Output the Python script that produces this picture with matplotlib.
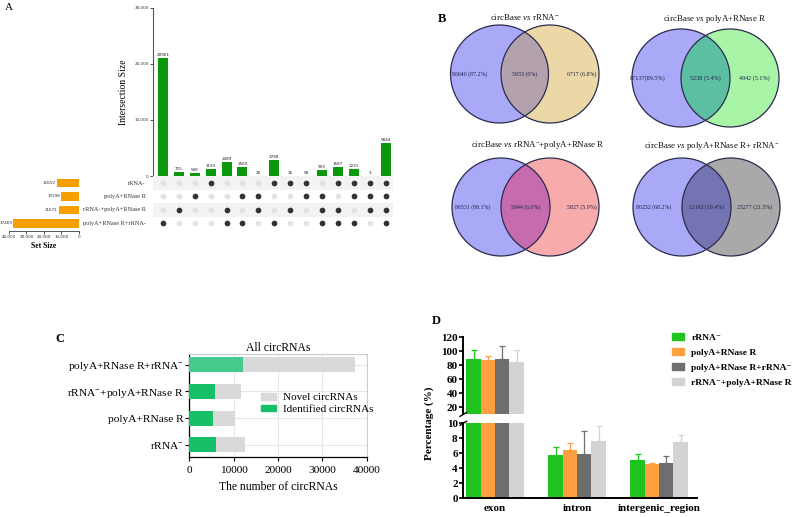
import matplotlib
matplotlib.use('Agg')
import matplotlib.pyplot as plt
from matplotlib.patches import Circle, Rectangle
from matplotlib.lines import Line2D
import numpy as np

plt.rcParams['font.family'] = ['Liberation Serif', 'DejaVu Serif']
plt.rcParams['mathtext.fontset'] = 'custom'
plt.rcParams['mathtext.rm'] = 'Liberation Serif'
plt.rcParams['mathtext.it'] = 'Liberation Serif:italic'
plt.rcParams['mathtext.bf'] = 'Liberation Serif:bold'

# ---------------- data ----------------
# Panel A (UpSet)
upset_sets = ['rRNA-', 'polyA+RNase R', 'rRNA-+polyA+RNase R', 'polyA+RNase R+rRNA-']
set_sizes = [12652, 10198, 11671, 37469]
inter_sizes = [20961, 715, 549, 1193, 2489, 1560, 20, 2788, 16, 58, 993, 1587, 1231, 3, 5844]
inter_members = [[3], [2], [1], [0], [2, 3], [1, 3], [1, 2], [0, 3], [0, 2], [0, 1],
                 [1, 2, 3], [0, 2, 3], [0, 1, 3], [0, 1, 2], [0, 1, 2, 3]]
upset_yticks = [0, 10000, 20000, 30000]
upset_yticklabels = ['0', '10,000', '20,000', '30,000']
setsize_ticks = [40000, 30000, 20000, 10000, 0]
setsize_ticklabels = ['40,000', '30,000', '20,000', '10,000', '0']

# Panel B (Venn)
venn_titles = [r'circBase $\mathit{vs}$ rRNA$^{-}$',
               r'circBase $\mathit{vs}$ polyA+RNase R',
               r'circBase $\mathit{vs}$ rRNA$^{-}$+polyA+RNase R',
               r'circBase $\mathit{vs}$ polyA+RNase R+ rRNA$^{-}$']
venn_left = ['86640 (87.2%)', '87137(89.5%)', '86531 (88.1%)', '80252 (68.2%)']
venn_mid = ['5933 (6%)', '5238 (5.4%)', '5844 (6.0%)', '12192 (10.4%)']
venn_right = ['6717 (6.8%)', '4942 (5.1%)', '5827 (5.9%)', '25277 (21.5%)']

# Panel C
c_categories = ['rRNA$^{-}$', 'polyA+RNase R', 'rRNA$^{-}$+polyA+RNase R', 'polyA+RNase R+rRNA$^{-}$']
c_identified = [5933, 5238, 5844, 12192]
c_total = [12652, 10198, 11671, 37469]

# Panel D
d_groups = ['exon', 'intron', 'intergenic_region']
d_series = ['rRNA\u207b', 'polyA+RNase R', 'polyA+RNase R+rRNA\u207b',
            'rRNA\u207b+polyA+RNase R']
d_values = [[88.5, 5.8, 5.05],
            [88.0, 6.4, 4.6],
            [89.0, 5.95, 4.7],
            [85.0, 7.7, 7.45]]
d_errors = [[13.0, 1.0, 0.85],
            [5.0, 1.0, 0.1],
            [18.0, 3.05, 1.0],
            [17.0, 2.0, 1.05]]

# ---------------- layout helpers ----------------
W, H = 800, 517
fig = plt.figure(figsize=(8, 5.17), dpi=100)


def rect(x0, y0, x1, y1):
    return [x0 / W, 1 - y1 / H, (x1 - x0) / W, (y1 - y0) / H]


def fx(x):
    return x / W


def fy(y):
    return 1 - y / H


# ================= Panel A =================
green_a = '#0a990a'
orange_a = '#f5a000'
ncol = len(inter_sizes)
xa = np.arange(ncol)
xlim_a = (-0.63, 14.47)

axA = fig.add_axes(rect(153, 7.5, 393, 176))
axA.bar(xa, inter_sizes, width=0.63, color=green_a, zorder=2)
for xi, v in zip(xa, inter_sizes):
    axA.text(xi, v + 200, str(v), ha='center', va='bottom', fontsize=3.0,
             family='DejaVu Sans', color='#222222')
axA.set_xlim(*xlim_a)
axA.set_ylim(0, 30000)
axA.set_yticks(upset_yticks)
axA.set_yticklabels(upset_yticklabels, fontsize=3.0, family='DejaVu Sans')
axA.set_xticks([])
for s in ['top', 'right', 'bottom']:
    axA.spines[s].set_visible(False)
axA.spines['left'].set_color('#555555')
axA.spines['left'].set_linewidth(0.8)
axA.tick_params(axis='y', length=2, width=0.6, pad=1, colors='#333333')
axA.set_ylabel('Intersection Size', fontsize=7, family='Liberation Serif')
axA.yaxis.set_label_coords(-0.105, 0.5)

axM = fig.add_axes(rect(153, 176, 393, 231))
axM.set_xlim(*xlim_a)
axM.set_ylim(3.56, -0.52)
for r in [0, 2]:
    axM.axhspan(r - 0.5, r + 0.5, color='#f3f3f3', zorder=0, lw=0)
for ci, mem in enumerate(inter_members):
    for r in range(len(upset_sets)):
        if r in mem:
            axM.scatter(ci, r, s=17, color='#333333', zorder=3, lw=0)
        else:
            axM.scatter(ci, r, s=17, color='#e3e3e3', zorder=2, lw=0)
for r, name in enumerate(upset_sets):
    axM.text(-1.1, r, name, ha='right', va='center', fontsize=4.5, clip_on=False,
             color='#333333')
axM.axis('off')

axS = fig.add_axes(rect(9, 176, 79, 231))
axS.barh(range(len(set_sizes)), set_sizes, height=0.62, color=orange_a)
for r, v in enumerate(set_sizes):
    axS.text(v + 600, r, str(v), ha='right', va='center', fontsize=3.0,
             family='DejaVu Sans', color='#333333')
axS.set_xlim(40000, 0)
axS.set_ylim(3.56, -0.52)
axS.set_yticks([])
axS.set_xticks(setsize_ticks)
axS.set_xticklabels(setsize_ticklabels, fontsize=3.0, family='DejaVu Sans')
for s in ['top', 'right', 'left']:
    axS.spines[s].set_visible(False)
axS.spines['bottom'].set_color('#555555')
axS.spines['bottom'].set_linewidth(0.7)
axS.tick_params(axis='x', length=2, width=0.6, pad=1, colors='#333333')
axS.set_xlabel('Set Size', fontsize=5.5, fontweight='bold', labelpad=2)

fig.text(fx(5), fy(7), 'A', fontsize=8, va='center', ha='left')

# ================= Panel B =================
axB = fig.add_axes(rect(420, 0, 800, 285))
axB.set_xlim(420, 800)
axB.set_ylim(285, 0)
axB.axis('off')

venn_pos = [(499.5, 550, 74), (681, 730, 78), (501, 550, 207), (682, 731, 207)]
venn_title_pos = [(525, 17), (715, 19), (538, 145), (712, 146)]
venn_r = 49
left_col = '#a9a9f7'
right_cols = ['#ecd8a6', '#a8f5a8', '#f7abab', '#a9a9a9']
mid_cols = ['#b3a2ae', '#5dbfa2', '#c66bae', '#7474b2']
edge_col = '#2b2b4e'
lab_fs = [4.2, 4.4, 4.2, 4.2]
lab_offsets = [(-30, 32), (-33, 24), (-28, 32), (-28, 24)]

for i in range(4):
    cxl, cxr, cy = venn_pos[i]
    cl = Circle((cxl, cy), venn_r, facecolor=left_col, edgecolor='none', zorder=1)
    cr = Circle((cxr, cy), venn_r, facecolor=right_cols[i], edgecolor='none', zorder=1)
    axB.add_patch(cl)
    axB.add_patch(cr)
    clip = Circle((cxl, cy), venn_r, facecolor='none', edgecolor='none')
    axB.add_patch(clip)
    cm = Circle((cxr, cy), venn_r, facecolor=mid_cols[i], edgecolor='none', zorder=2)
    axB.add_patch(cm)
    cm.set_clip_path(clip)
    axB.add_patch(Circle((cxl, cy), venn_r, facecolor='none', edgecolor=edge_col, lw=0.9, zorder=3))
    axB.add_patch(Circle((cxr, cy), venn_r, facecolor='none', edgecolor=edge_col, lw=0.9, zorder=3))
    ol, orr = lab_offsets[i]
    axB.text(cxl + ol, cy, venn_left[i], ha='center', va='center', fontsize=lab_fs[i], color='#20204a', zorder=4)
    axB.text((cxl + cxr) / 2, cy, venn_mid[i], ha='center', va='center', fontsize=lab_fs[i], color='#20204a', zorder=4)
    axB.text(cxr + orr, cy, venn_right[i], ha='center', va='center', fontsize=lab_fs[i], color='#20204a', zorder=4)
    tx, ty = venn_title_pos[i]
    axB.text(tx, ty, venn_titles[i], ha='center', va='center', fontsize=6.4, color='#111111')

fig.text(fx(438), fy(19), 'B', fontsize=9, fontweight='bold', va='center', ha='left')

# ================= Panel C =================
axC = fig.add_axes(rect(189.3, 354, 366.7, 457))
yc = np.arange(len(c_categories))
novel = [t - i for t, i in zip(c_total, c_identified)]
id_cols = ['#17bf68', '#17bf68', '#17bf68', '#45c98c']
axC.barh(yc, c_identified, height=0.56, color=id_cols, zorder=3)
axC.barh(yc, novel, left=c_identified, height=0.56, color='#d9d9d9', zorder=3)
axC.set_xlim(0, 40000)
axC.set_ylim(-0.45, 3.4)
axC.set_xticks([0, 10000, 20000, 30000, 40000])
axC.set_yticks(yc)
axC.set_yticklabels(c_categories, fontsize=8.2)
axC.tick_params(axis='x', labelsize=8.2, length=3, width=0.8)
axC.tick_params(axis='y', length=3, width=0.8, pad=1)
axC.grid(True, color='#e6e6e6', lw=0.8, zorder=0)
axC.set_axisbelow(True)
axC.spines['top'].set_color('#cccccc')
axC.spines['right'].set_color('#cccccc')
axC.spines['left'].set_linewidth(0.9)
axC.spines['bottom'].set_linewidth(0.9)
axC.set_title('All circRNAs', fontsize=8.4, pad=2)
axC.set_xlabel('The number of circRNAs', fontsize=8.4, labelpad=4)
hC = [Rectangle((0, 0), 1, 1, color='#d9d9d9'), Rectangle((0, 0), 1, 1, color='#17bf68')]
axC.legend(hC, ['Novel circRNAs', 'Identified circRNAs'], loc='upper left',
           bbox_to_anchor=(fx(261), fy(393)), bbox_transform=fig.transFigure,
           frameon=False, fontsize=8, handlelength=1.35, handleheight=0.55,
           labelspacing=0.2, handletextpad=0.6, borderpad=0, borderaxespad=0)

fig.text(fx(55), fy(339), 'C', fontsize=9, fontweight='bold', va='center', ha='left')

# ================= Panel D =================
d_cols = ['#1ec31e', '#ffa040', '#6e6e6e', '#d3d3d3']
bw = 0.175
xg = np.arange(len(d_groups))
xlim_d = (-0.387, 2.463)
upper_low = 10

axU = fig.add_axes(rect(463.3, 337.3, 697, 414.4))
axL = fig.add_axes(rect(463.3, 423.3, 697, 498.3))
for ax, is_upper in ((axU, True), (axL, False)):
    for k in range(4):
        xs = xg + (k - 1.5) * bw
        vals = np.array(d_values[k])
        errs = np.array(d_errors[k])
        ax.bar(xs, vals, width=bw, color=d_cols[k], zorder=2)
        keep = (vals + errs > upper_low) if is_upper else np.ones(len(vals), bool)
        if keep.any():
            ax.errorbar(xs[keep], vals[keep], yerr=[np.zeros(keep.sum()), errs[keep]],
                        fmt='none', ecolor=d_cols[k], elinewidth=0.9, capsize=2.5,
                        capthick=0.9, zorder=1)
    ax.set_xlim(*xlim_d)
    ax.spines['top'].set_visible(False)
    ax.spines['right'].set_visible(False)
    ax.spines['left'].set_linewidth(1.4)
    ax.tick_params(axis='y', labelsize=8, width=1.2, length=3, pad=1)

axU.set_ylim(upper_low, 120)
axU.set_yticks([20, 40, 60, 80, 100, 120])
axU.set_yticklabels(['20', '40', '60', '80', '100', '120'], fontweight='bold', fontsize=8)
axU.spines['bottom'].set_visible(False)
axU.set_xticks([])

axL.set_ylim(0, 10)
axL.set_yticks([0, 2, 4, 6, 8, 10])
axL.set_yticklabels(['0', '2', '4', '6', '8', '10'], fontweight='bold', fontsize=8)
axL.spines['bottom'].set_linewidth(1.4)
axL.set_xticks(xg)
axL.set_xticklabels(d_groups, fontweight='bold', fontsize=8)
axL.tick_params(axis='x', length=0, pad=4)

# break marks on the left spine
for yb in (414.4, 423.3):
    fig.add_artist(Line2D([fx(460), fx(466.5)], [fy(yb + 2), fy(yb - 2)],
                          color='black', lw=1.0))

fig.text(fx(429), fy(423), 'Percentage (%)', rotation=90, fontsize=8, fontweight='bold',
         ha='center', va='center')
hD = [Rectangle((0, 0), 1, 1, color=c) for c in d_cols]
axU.legend(hD, d_series, loc='upper left', bbox_to_anchor=(fx(672), fy(333)),
           bbox_transform=fig.transFigure, frameon=False,
           prop={'weight': 'bold', 'size': 6.8}, handlelength=1.3, handleheight=0.8,
           labelspacing=0.65, handletextpad=0.75, borderpad=0, borderaxespad=0)

fig.text(fx(432), fy(321), 'D', fontsize=9, fontweight='bold', va='center', ha='left')

fig.savefig('out.png', dpi=100)
